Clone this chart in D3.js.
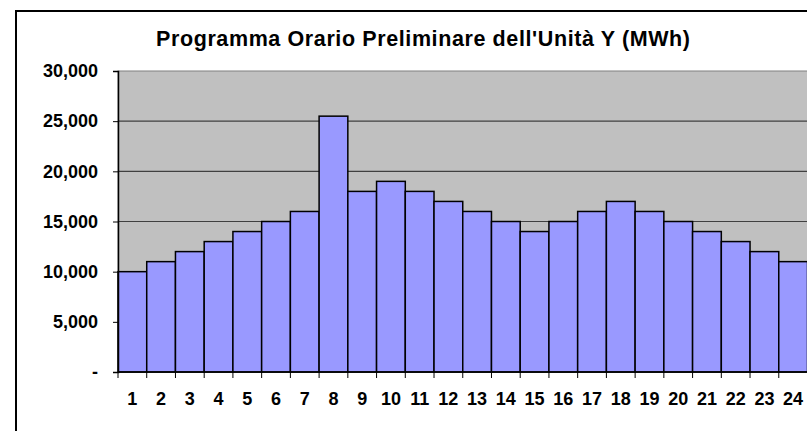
<!DOCTYPE html>
<html>
<head>
<meta charset="utf-8">
<script src="https://cdn.jsdelivr.net/npm/d3@7"></script>
<style>
  body { margin: 0; background: #fff; }
  svg { display: block; }
</style>
</head>
<body>
<div id="chart"></div>
<script>
// hours of the day and the scheduled MWh for each
var hours = d3.range(1, 25);
var mwh = [10000, 11000, 12000, 13000, 14000, 15000, 16000, 25500,
           18000, 19000, 18000, 17000, 16000, 15000, 14000, 15000,
           16000, 17000, 16000, 15000, 14000, 13000, 12000, 11000];
var yTicks = [0, 5000, 10000, 15000, 20000, 25000, 30000];
var title = "Programma Orario Preliminare dell'Unità Y (MWh)";

var W = 807, H = 431;
var margin = {top: 71, right: 0, bottom: 59, left: 118};
var width = 807.5 - margin.left - margin.right,
  height = 372 - margin.top;

var svg = d3.select('#chart').append('svg')
  .attr('width', W)
  .attr('height', H);

// outer chart border (runs off the right and bottom of the picture)
svg.append('rect')
  .attr('x', 16).attr('y', 11)
  .attr('width', W + 20).attr('height', H + 20)
  .attr('fill', '#fff')
  .attr('stroke', '#000')
  .attr('stroke-width', 2);

svg.append('text')
  .attr('x', 156).attr('y', 46)
  .attr('textLength', 534)
  .attr('lengthAdjust', 'spacing')
  .attr('font-family', 'Liberation Sans, Arial, sans-serif')
  .attr('font-weight', 'bold')
  .attr('font-size', 21.5)
  .text(title);

var g = svg.append('g')
  .attr('transform', 'translate(' + margin.left + ',' + margin.top + ')');

var x = d3.scaleBand().domain(hours).range([0, width]).padding(0);
var y = d3.scaleLinear().domain([0, 30000]).range([height, 0]);

// plot area
g.append('rect')
  .attr('width', width).attr('height', height)
  .attr('fill', '#c0c0c0')
  .attr('stroke', '#808080')
  .attr('stroke-width', 1);

// gridlines
g.selectAll('.grid').data(yTicks.filter(function(d) { return d > 0 && d < 30000; }))
  .enter().append('line')
  .attr('x1', 0).attr('x2', width)
  .attr('y1', function(d) { return y(d); })
  .attr('y2', function(d) { return y(d); })
  .attr('stroke', '#404040')
  .attr('stroke-width', 1.2);

// bars
g.selectAll('.bar').data(mwh)
  .enter().append('rect')
  .attr('x', function(d, i) { return x(hours[i]); })
  .attr('y', function(d) { return y(d); })
  .attr('width', x.bandwidth())
  .attr('height', function(d) { return height - y(d); })
  .attr('fill', '#9999ff')
  .attr('stroke', '#000')
  .attr('stroke-width', 1.5);

// y axis
var yAxis = d3.axisLeft(y)
  .tickValues(yTicks)
  .tickSize(5)
  .tickPadding(15)
  .tickFormat(function(d) { return d === 0 ? '-' : d3.format(',')(d); });

var ya = g.append('g').call(yAxis);
ya.select('.domain').attr('stroke', '#000').attr('stroke-width', 1.5);

// x axis, ticks at bar boundaries
var xa = g.append('g').attr('transform', 'translate(0,' + height + ')');
xa.append('line')
  .attr('x1', 0).attr('x2', width)
  .attr('stroke', '#000').attr('stroke-width', 1.5);
xa.selectAll('.xt').data(hours.concat([25]))
  .enter().append('line')
  .attr('x1', function(d) { return d === 25 ? width : x(d); })
  .attr('x2', function(d) { return d === 25 ? width : x(d); })
  .attr('y1', 0).attr('y2', 6)
  .attr('stroke', '#000').attr('stroke-width', 1);
xa.selectAll('.xl').data(hours)
  .enter().append('text')
  .attr('x', function(d) { return x(d) + x.bandwidth() / 2; })
  .attr('y', 33)
  .attr('text-anchor', 'middle')
  .text(function(d) { return d; });

g.selectAll('text')
  .attr('font-family', 'Liberation Sans, Arial, sans-serif')
  .attr('font-weight', 'bold')
  .attr('font-size', 18)
  .attr('fill', '#000');
ya.selectAll('.tick line').attr('stroke', '#000');
</script>
</body>
</html>
